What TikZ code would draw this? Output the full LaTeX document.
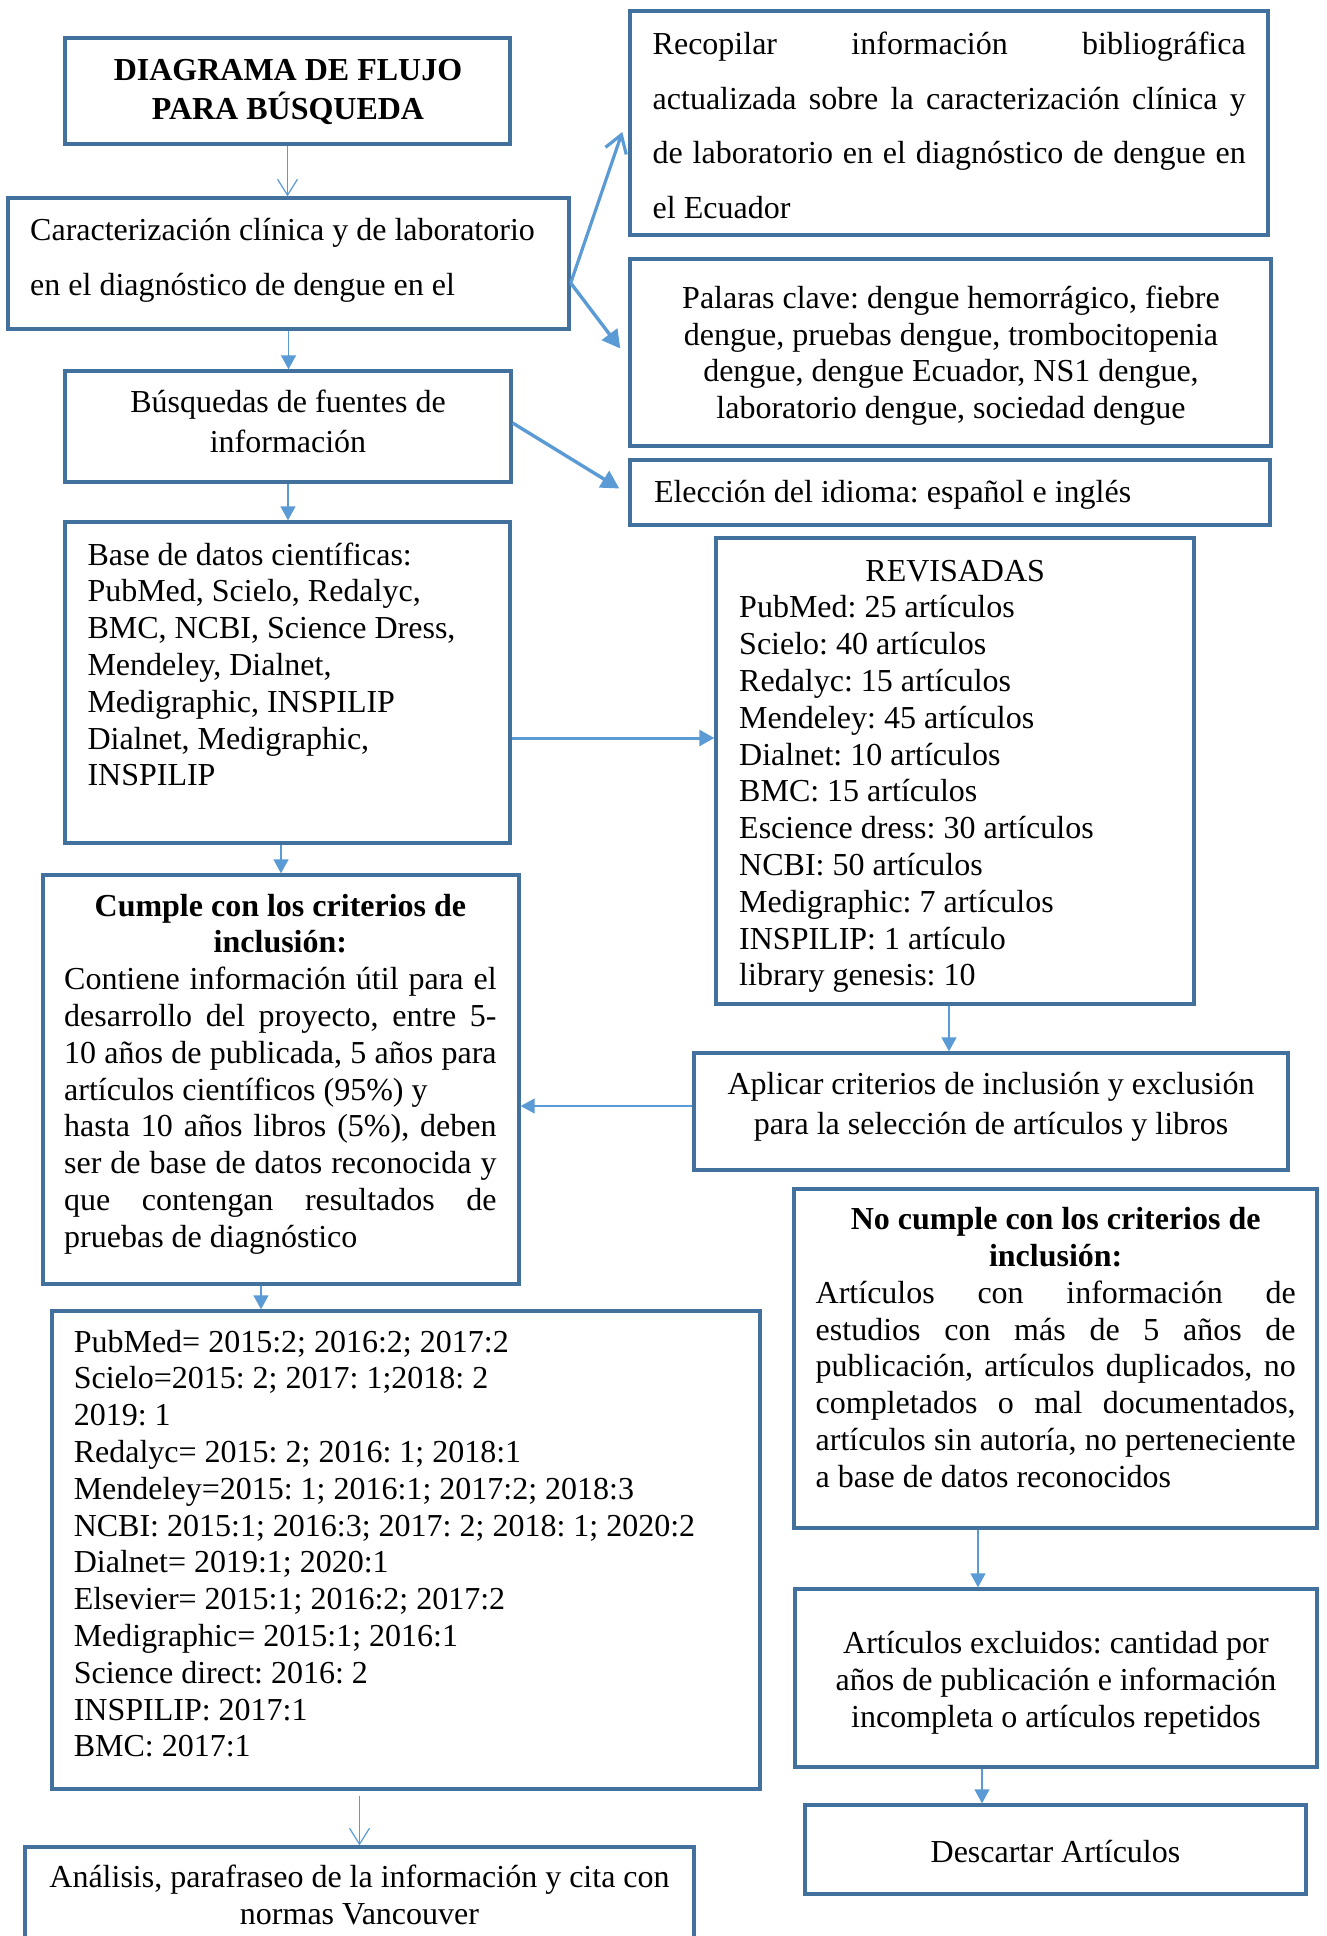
\documentclass[tikz,border=0pt]{standalone}
\usepackage{fontspec}
\setmainfont{Liberation Serif}
\usetikzlibrary{arrows.meta}
\definecolor{boxc}{HTML}{41719C}
\definecolor{arrc}{HTML}{5B9BD5}
\newcommand{\rs}{\spaceskip=0pt\xspaceskip=0pt\frenchspacing}
\newcommand{\jl}[1]{\makebox[\linewidth][s]{\rs #1}}
\newcommand{\cl}[1]{\makebox[\linewidth][c]{\rs #1}}
\newcommand{\bx}[5]{\node[box, minimum width={#4-#2}, minimum height={#5-#3}] (#1) at ({(#2+#4)/2},{(#3+#5)/2}) {};}
\begin{document}
\begin{tikzpicture}[x=1pt,y=-1pt,
  box/.style={draw=boxc, line width=3.4pt, inner sep=0pt, rectangle},
  txt/.style={inner sep=0pt, font=\fontsize{32}{36.8}\selectfont, align=left},
  arrS/.style={draw=arrc, line width=1.4pt, -{Triangle[width=15pt,length=14pt]}},
  arrM/.style={draw=arrc, line width=3pt, -{Triangle[width=16pt,length=15pt]}},
  arrL/.style={draw=arrc, line width=3.4pt, -{Triangle[width=19pt,length=18pt]}},
  arrV/.style={draw=arrc, line width=1.2pt, -{Straight Barb[width=20pt,length=16pt]}},
  arrVL/.style={draw=arrc, line width=3.2pt, -{Straight Barb[width=22pt,length=17pt]}},
]
\useasboundingbox (0,0) rectangle (1327,1936);
\fill[white] (0,0) rectangle (1327,1936);
\clip (0,0) rectangle (1327,1936);

% boxes
\bx{btitle}{65}{38}{510}{144}
\bx{bcaract}{8}{198}{569}{329}
\bx{brecop}{630}{11}{1268}{235}
\bx{bpal}{630}{259}{1271}{446}
\bx{belec}{630}{460}{1270}{525}
\bx{bbusq}{65}{371}{511}{482}
\bx{bbase}{65}{522}{510}{843}
\bx{brevis}{716}{538}{1194}{1004}
\bx{bcumple}{43}{875}{519}{1284}
\bx{baplic}{694}{1053}{1288}{1170}
\bx{bnocum}{794}{1189}{1317}{1528}
\bx{byears}{52}{1311}{760}{1789}
\bx{bexcl}{795}{1589}{1317}{1767}
\bx{bdesc}{805}{1805}{1306}{1894}
\bx{banal}{25}{1847}{694}{1975}

% texts
\node[txt, anchor=base, text width=440pt, font=\fontsize{32}{39.5}\selectfont\bfseries] (ttitle) at (288,80) {\rs\cl{DIAGRAMA DE FLUJO}\\ \cl{PARA BÚSQUEDA}};
\node[txt, anchor=base west, text width=530pt, font=\fontsize{32}{55}\selectfont] (tcaract) at (30,240) {\rs Caracterización clínica y de laboratorio\\en el diagnóstico de dengue en el};
\node[txt, anchor=base west, text width=593pt, font=\fontsize{32}{54.6}\selectfont] (trecop) at (652.5,54.4) {\rs\jl{Recopilar información bibliográfica}\\ \jl{actualizada sobre la caracterización clínica y}\\ \jl{de laboratorio en el diagnóstico de dengue en}\\ el Ecuador};
\node[txt, anchor=base, text width=640pt] (tpal) at (951,308.2) {\rs\cl{Palaras clave: dengue hemorrágico, fiebre}\\ \cl{dengue, pruebas dengue, trombocitopenia}\\ \cl{dengue, dengue Ecuador, NS1 dengue,}\\ \cl{laboratorio dengue, sociedad dengue}};
\node[txt, anchor=base, text width=440pt, font=\fontsize{32}{39.7}\selectfont] (tbusq) at (288,412.7) {\rs\cl{Búsquedas de fuentes de}\\ \cl{información}};
\node[txt, anchor=base west, text width=600pt] (telec) at (653.8,502.7) {\rs Elección del idioma: español e inglés};
\node[txt, anchor=base west, text width=420pt] (tbase) at (87.3,565) {\rs Base de datos científicas:\\PubMed, Scielo, Redalyc,\\BMC, NCBI, Science Dress,\\Mendeley, Dialnet,\\Medigraphic, INSPILIP\\Dialnet, Medigraphic,\\INSPILIP};
\node[txt, anchor=base west, text width=432pt] (trevis) at (739,581) {\rs\cl{REVISADAS}\\PubMed: 25 artículos\\Scielo: 40 artículos\\Redalyc: 15 artículos\\Mendeley: 45 artículos\\Dialnet: 10 artículos\\BMC: 15 artículos\\Escience dress: 30 artículos\\NCBI: 50 artículos\\Medigraphic: 7 artículos\\INSPILIP: 1 artículo\\library genesis: 10};
\node[txt, anchor=base, text width=580pt, font=\fontsize{32}{40}\selectfont] (taplic) at (991,1094.5) {\rs\cl{Aplicar criterios de inclusión y exclusión}\\ \cl{para la selección de artículos y libros}};
\node[txt, anchor=base west, text width=432.4pt] (tcumple) at (64,916) {\rs\cl{\bfseries Cumple con los criterios de}\\ \cl{\bfseries inclusión:}\\ \jl{Contiene información útil para el}\\ \jl{desarrollo del proyecto, entre 5-}\\ \jl{10 años de publicada, 5 años para}\\ artículos científicos (95\%) y\\ \jl{hasta 10 años libros (5\%), deben}\\ \jl{ser de base de datos reconocida y}\\ \jl{que contengan resultados de}\\ pruebas de diagnóstico};
\node[txt, anchor=base west, text width=680pt] (tyears) at (73.6,1352) {\rs PubMed= 2015:2; 2016:2; 2017:2\\Scielo=2015: 2; 2017: 1;2018: 2\\2019: 1\\Redalyc= 2015: 2; 2016: 1; 2018:1\\Mendeley=2015: 1; 2016:1; 2017:2; 2018:3\\NCBI: 2015:1; 2016:3; 2017: 2; 2018: 1; 2020:2\\Dialnet= 2019:1; 2020:1\\Elsevier= 2015:1; 2016:2; 2017:2\\Medigraphic= 2015:1; 2016:1\\Science direct: 2016: 2\\INSPILIP: 2017:1\\BMC: 2017:1};
\node[txt, anchor=base, text width=660pt, font=\fontsize{32}{36.5}\selectfont] (tanal) at (359.5,1887.5) {\rs\cl{Análisis, parafraseo de la información y cita con}\\ \cl{normas Vancouver}};
\node[txt, anchor=base west, text width=480pt] (tnocum) at (815.5,1229.6) {\rs\cl{\bfseries No cumple con los criterios de}\\ \cl{\bfseries inclusión:}\\ \jl{Artículos con información de}\\ \jl{estudios con más de 5 años de}\\ \jl{publicación, artículos duplicados, no}\\ \jl{completados o mal documentados,}\\ \jl{artículos sin autoría, no perteneciente}\\ a base de datos reconocidos};
\node[txt, anchor=base, text width=520pt, font=\fontsize{32}{36.7}\selectfont] (texcl) at (1056,1653.6) {\rs\cl{Artículos excluidos: cantidad por}\\ \cl{años de publicación e información}\\ \cl{incompleta o artículos repetidos}};
\node[txt, anchor=base, text width=480pt] (tdesc) at (1055.5,1862.7) {\rs\cl{Descartar Artículos}};

% connectors
\coordinate (cE) at ([yshift=-19.5pt]bcaract.east);
\coordinate (recT) at ([shift={(-6pt,-9pt)}]brecop.west);
\coordinate (palT) at ([shift={(-8pt,4pt)}]bpal.west);
\coordinate (bE) at ([yshift=3.5pt]bbusq.east);
\coordinate (elT) at ([shift={(-9pt,4pt)}]belec.west);
\coordinate (baseE) at ([yshift=-55.5pt]bbase.east);
\coordinate (revS) at ([xshift=-6pt]brevis.south);
\coordinate (apW) at ([yshift=5.5pt]baplic.west);
\coordinate (cuS) at ([xshift=-20pt]bcumple.south);
\coordinate (ncS) at ([xshift=-77.5pt]bnocum.south);
\coordinate (exS) at ([xshift=-74pt]bexcl.south);

\draw[arrV] (btitle.south) -- (btitle.south |- bcaract.north);
\draw[arrS] (bcaract.south) -- (bcaract.south |- bbusq.north);
\draw[arrVL] (cE) -- (recT);
\draw[arrL] (cE) -- (palT);
\draw[arrL] (bE) -- (elT);
\draw[arrS] (bbusq.south) -- (bbusq.south |- bbase.north);
\draw[arrM] (baseE) -- (baseE -| brevis.west);
\draw[arrS] (bbase.south -| bcumple.north) -- (bcumple.north);
\draw[arrS] (revS) -- (revS |- baplic.north);
\draw[arrS] (apW) -- (apW -| bcumple.east);
\draw[arrS] (cuS) -- (cuS |- byears.north);
\draw[arrV, shorten <=5pt] (byears.south -| banal.north) -- (banal.north);
\draw[arrS] (ncS) -- (ncS |- bexcl.north);
\draw[arrS] (exS) -- (exS |- bdesc.north);
\end{tikzpicture}
\end{document}
